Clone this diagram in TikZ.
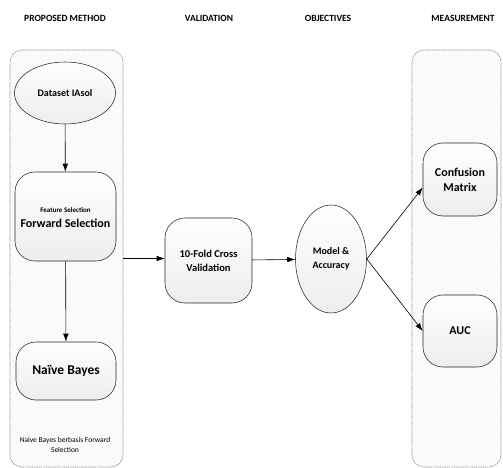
\documentclass[tikz,border=0pt]{standalone}
\usepackage{fontspec}
\setmainfont{Carlito}
\usetikzlibrary{arrows.meta,shapes.geometric}

\tikzset{
  lane/.style={draw=gray!85, dash pattern=on 1.2pt off 0.6pt, line width=0.6pt,
    fill=gray!4, rounded corners=12pt, inner sep=0pt},
  proc/.style={draw=black!85, line width=0.55pt, rounded corners=20pt,
    top color=white, bottom color=gray!14, align=center, inner sep=0pt},
  oval/.style={ellipse, draw=black!85, line width=0.55pt,
    top color=white, bottom color=gray!14, align=center, inner sep=0pt},
  head/.style={font=\bfseries\fontsize{9.5}{11}\selectfont},
  flow/.style={-{Latex[length=8pt,width=5.5pt]}, line width=0.6pt}
}

\begin{document}
\begin{tikzpicture}[x=1pt, y=-1pt]
        \useasboundingbox (0,0) rectangle (503,468);

        % Column titles
        \node[head] (hmethod) at (65,18) {PROPOSED METHOD};
        \node[head] (hvalid) at (209,18) {VALIDATION};
        \node[head] (hobj) at (328,18) {OBJECTIVES};
        \node[head] (hmeasure) at (463,18) {MEASUREMENT};

        % Dashed containers
        \node[lane, minimum width=113pt, minimum height=417pt] (method) at (66.5,258.5) {};
        \node[lane, minimum width=89pt, minimum height=417pt] (measure) at (456.5,258.5) {};

        % Proposed method
        \node[oval, minimum width=101pt, minimum height=62pt,
              font=\bfseries\fontsize{10}{12}\selectfont] (data) at (65,93) {Dataset IAsol};
        \node[proc, minimum width=101pt, minimum height=89pt, font=\bfseries] (fwd) at (65.5,216.5)
              {\\[-4pt]{\fontsize{7}{8}\selectfont Feature Selection}\\[3pt]{\fontsize{12}{14}\selectfont Forward Selection}};
        \node[proc, minimum width=100pt, minimum height=58pt,
              font=\bfseries\fontsize{13.5}{15}\selectfont] (nb) at (66,371) {Naïve Bayes};
        \node[font=\fontsize{7.5}{10}\selectfont, align=center] (note) at (65,445)
              {Naive Bayes berbasis Forward\\Selection};

        % Validation and objectives
        \node[proc, minimum width=87pt, minimum height=85pt,
              font=\bfseries\fontsize{10.5}{14}\selectfont] (cv) at (208.5,260.5) {10-Fold Cross\\Validation};
        \node[oval, minimum width=71pt, minimum height=108pt,
              font=\bfseries\fontsize{10}{14}\selectfont] (model) at (331,259) {Model \&\\Accuracy};

        % Measurement
        \node[proc, minimum width=74pt, minimum height=73pt,
              font=\bfseries\fontsize{12}{15}\selectfont] (conf) at (460,179.5) {Confusion\\Matrix};
        \node[proc, minimum width=74pt, minimum height=72pt,
              font=\bfseries\fontsize{12}{15}\selectfont] (auc) at (460,331) {AUC};

        % Connectors
        \draw[flow] (data) -- (fwd);
        \draw[flow] (fwd) -- (nb);
        \draw[flow] (method.east) -- (method.east -| cv.west);
        \draw[flow] (cv) -- (model);
        \draw[flow] (model.east) -- ([yshift=-8pt]conf.west);
        \draw[flow] (model.east) -- (auc.west);

    \end{tikzpicture}
\end{document}
